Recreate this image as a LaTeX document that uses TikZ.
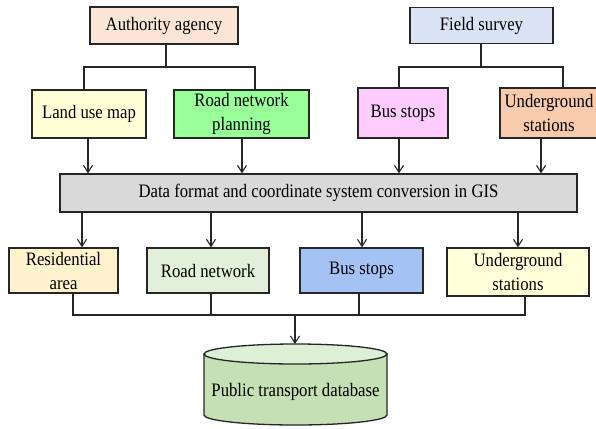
\documentclass[tikz,border=0pt]{standalone}
\usepackage{fontspec}
\setmainfont{Liberation Serif}[FakeStretch=0.88]
\usetikzlibrary{arrows.meta}
\definecolor{lc}{HTML}{262626}
\definecolor{cauth}{HTML}{FBE5D6}
\definecolor{cfield}{HTML}{DAE3F3}
\definecolor{cland}{HTML}{FFFFD5}
\definecolor{croadp}{HTML}{99FF99}
\definecolor{cbust}{HTML}{FFCCFF}
\definecolor{cugt}{HTML}{F8CBAD}
\definecolor{cgis}{HTML}{D9D9D9}
\definecolor{cres}{HTML}{FFF2CC}
\definecolor{croad}{HTML}{E2F0D9}
\definecolor{cbusb}{HTML}{A4C2F4}
\definecolor{cugb}{HTML}{FFFFD9}
\definecolor{ccyl}{HTML}{C5E0B4}
\definecolor{ccyltop}{HTML}{DDEFD5}
\begin{document}
\begin{tikzpicture}[x=1pt,y=-1pt,
  box/.style={draw=lc,line width=1.3pt,inner sep=0pt,align=center,
    font=\fontsize{19}{24}\selectfont},
  conn/.style={draw=lc,line width=1.2pt},
  arr/.style={conn,-{Straight Barb[length=7pt,width=9pt,line width=1.1pt]}}]
\clip (0,0) rectangle (596,428);
% top sources
\node[box,fill=cauth,minimum width=148pt,minimum height=37pt] (auth) at (164,25.5) {Authority agency};
\node[box,fill=cfield,minimum width=143pt,minimum height=36pt] (field) at (481.5,25.5) {Field survey};
% second row
\node[box,fill=cland,minimum width=114pt,minimum height=48pt] (land) at (89,114) {Land use map};
\node[box,fill=croadp,minimum width=135pt,minimum height=48pt] (roadp) at (241.5,114) {Road network\\planning};
\node[box,fill=cbust,minimum width=90pt,minimum height=50pt] (bust) at (403,113) {Bus stops};
\node[box,fill=cugt,minimum width=98pt,minimum height=50pt] (ugt) at (549,113) {Underground\\stations};
% GIS
\node[box,fill=cgis,minimum width=517pt,minimum height=38pt] (gis) at (318.5,193) {Data format and coordinate system conversion in GIS};
% bottom row
\node[box,fill=cres,minimum width=109pt,minimum height=45pt] (res) at (63.5,270.5) {Residential\\area};
\node[box,fill=croad,minimum width=122pt,minimum height=45pt] (road) at (208,270.5) {Road network};
\node[box,fill=cbusb,minimum width=123pt,minimum height=45pt] (busb) at (361.5,270.5) {Bus stops};
\node[box,fill=cugb,minimum width=142pt,minimum height=48pt] (ugb) at (518,272) {Underground\\stations};
% branch coordinates
\coordinate (aj) at (166,67);
\coordinate (fj) at (481,67);
\coordinate (bj) at (295,315);
% top branches
\draw[conn] (auth.south -| aj) -- (aj);
\draw[conn] (84,90) |- (255,67) -- (255,90);
\draw[conn] (field.south -| fj) -- (fj);
\draw[conn] (399,88) |- (563,67) -- (563,88);
% arrows into GIS
\draw[arr] (land.south -| 88,0) -- (gis.north -| 88,0);
\draw[arr] (roadp.south -| 242,0) -- (gis.north -| 242,0);
\draw[arr] (bust.south -| 399,0) -- (gis.north -| 399,0);
\draw[arr] (ugt.south -| 541,0) -- (gis.north -| 541,0);
% arrows out of GIS
\draw[arr] (gis.south -| 82,0) -- (res.north -| 82,0);
\draw[arr] (gis.south -| 211,0) -- (road.north -| 211,0);
\draw[arr] (gis.south -| 362,0) -- (busb.north -| 362,0);
\draw[arr] (gis.south -| 518,0) -- (ugb.north -| 518,0);
% bottom collector
\draw[conn] (res.south -| 73,0) |- (bj);
\draw[conn] (road.south -| 211,0) -- (211,315);
\draw[conn] (busb.south -| 359,0) -- (359,315);
\draw[conn] (ugb.south -| 525,0) |- (bj);
% cylinder
\draw[draw=lc,line width=1.3pt,fill=ccyl] (204,354) -- (204,415) arc[start angle=180,end angle=360,x radius=91.5pt,y radius=10pt] -- (387,354) -- cycle;
\draw[draw=lc,line width=1.3pt,fill=ccyltop] (295.5,354) ellipse[x radius=91.5pt,y radius=10pt];
\coordinate (cyltop) at (295,344);
\node[font=\fontsize{19}{24}\selectfont,inner sep=0pt] (db) at (295.5,392) {Public transport database};
\draw[arr] (bj) -- (cyltop);
\end{tikzpicture}
\end{document}
